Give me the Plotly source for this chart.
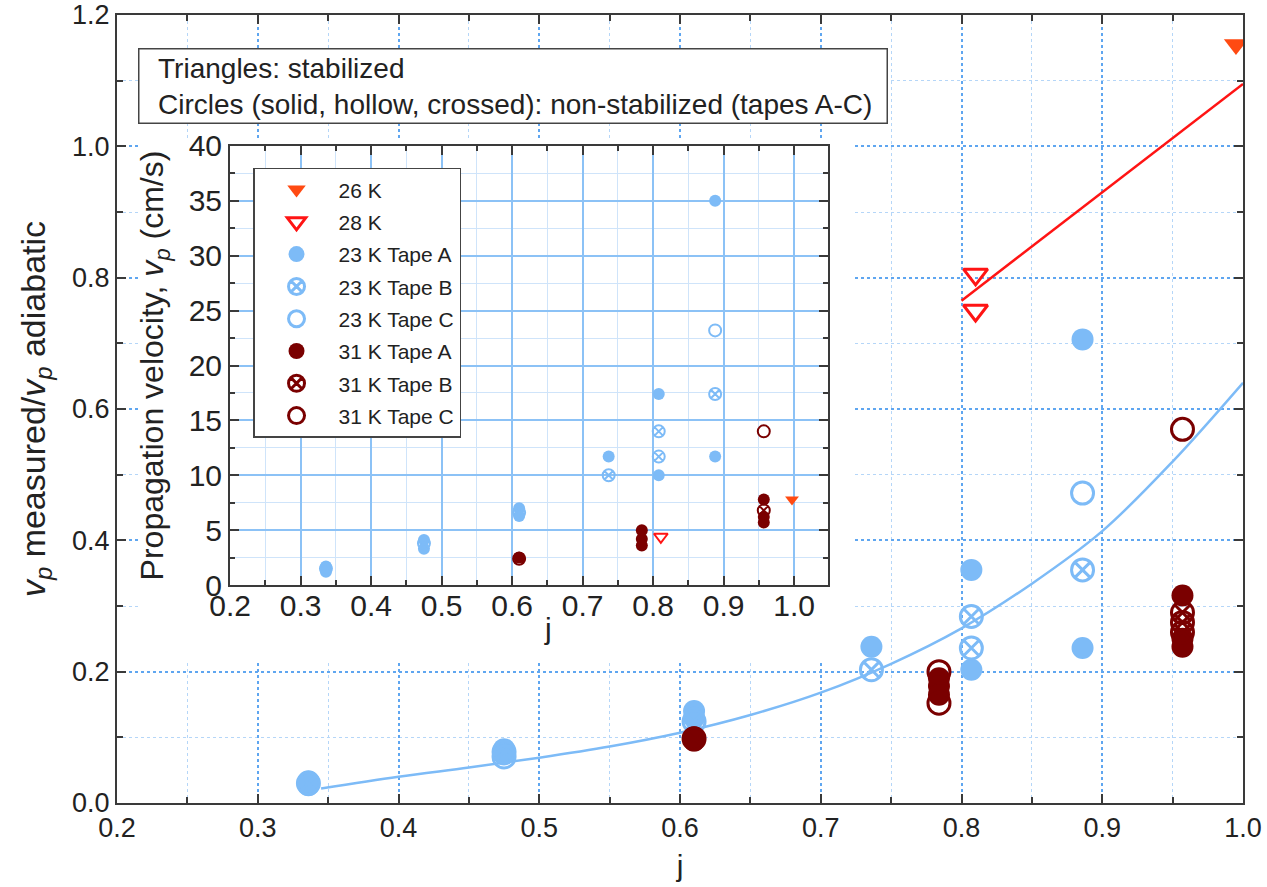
import plotly.graph_objects as go

# ---------------- data: main plot (v_p measured / v_p adiabatic vs j) ----------------
j_26K = [0.995]
r_26K = [1.155]
j_28K = [0.81, 0.81]
r_28K = [0.805, 0.75]
j_23A = [0.336, 0.336, 0.475, 0.475, 0.61, 0.61, 0.736, 0.807, 0.807, 0.886, 0.886]
r_23A = [0.033, 0.027, 0.082, 0.074, 0.140, 0.130, 0.238, 0.355, 0.203, 0.706, 0.236]
j_23B = [0.336, 0.475, 0.61, 0.736, 0.807, 0.807, 0.886]
r_23B = [0.030, 0.078, 0.124, 0.203, 0.284, 0.236, 0.355]
j_23C = [0.475, 0.886]
r_23C = [0.070, 0.472]
j_31A = [0.61, 0.61, 0.784, 0.784, 0.784, 0.957, 0.957, 0.957]
r_31A = [0.100, 0.095, 0.190, 0.178, 0.165, 0.316, 0.250, 0.238]
j_31B = [0.61, 0.957, 0.957, 0.957]
r_31B = [0.098, 0.290, 0.275, 0.260]
j_31C = [0.784, 0.784, 0.957]
r_31C = [0.200, 0.152, 0.569]

# fitted curves
fit_j = [0.345, 0.40, 0.45, 0.50, 0.55, 0.60, 0.65, 0.70, 0.75, 0.80, 0.85, 0.90, 0.95, 1.00]
fit_r = [0.022, 0.040, 0.054, 0.069, 0.086, 0.107, 0.134, 0.168, 0.212, 0.266, 0.334, 0.414, 0.520, 0.640]
stab_j = [0.80, 1.00]
stab_r = [0.765, 1.095]

# ---------------- data: inset (propagation velocity, cm/s) ----------------
ij_26K = [0.997]
iv_26K = [7.8]
ij_28K = [0.811]
iv_28K = [4.4]
ij_23A = [0.336, 0.336, 0.475, 0.475, 0.61, 0.61, 0.737, 0.808, 0.808, 0.888, 0.888]
iv_23A = [1.7, 1.2, 4.1, 3.3, 7.0, 6.3, 11.7, 17.4, 10.0, 35.0, 11.7]
ij_23B = [0.336, 0.475, 0.61, 0.737, 0.808, 0.808, 0.888]
iv_23B = [1.5, 3.8, 6.6, 10.0, 14.0, 11.7, 17.4]
ij_23C = [0.888]
iv_23C = [23.2]
ij_31A = [0.61, 0.784, 0.784, 0.784, 0.957, 0.957, 0.957]
iv_31A = [2.5, 5.0, 4.2, 3.6, 7.8, 6.2, 5.7]
ij_31B = [0.61, 0.957]
iv_31B = [2.4, 6.8]
ij_31C = [0.957]
iv_31C = [14.0]

main_x_ticks = [0.2, 0.3, 0.4, 0.5, 0.6, 0.7, 0.8, 0.9, 1.0]
main_y_ticks = [0.0, 0.2, 0.4, 0.6, 0.8, 1.0, 1.2]
inset_y_ticks = [0, 5, 10, 15, 20, 25, 30, 35, 40]

# ---------------- styles ----------------
FONT = "Liberation Sans, Arial, Helvetica, sans-serif"
TXT = "#222222"
LB = "#7DBBF7"
DR = "#7A0000"
OR = "#FF4A12"
RD = "#FF1414"
AX = "#3a3a3a"

series = [
    ("26 K", j_26K, r_26K, ij_26K, iv_26K, "triangle-down", OR),
    ("28 K", j_28K, r_28K, ij_28K, iv_28K, "triangle-down-open", RD),
    ("23 K Tape A", j_23A, r_23A, ij_23A, iv_23A, "circle", LB),
    ("23 K Tape B", j_23B, r_23B, ij_23B, iv_23B, "circle-x-open", LB),
    ("23 K Tape C", j_23C, r_23C, ij_23C, iv_23C, "circle-open", LB),
    ("31 K Tape A", j_31A, r_31A, ij_31A, iv_31A, "circle", DR),
    ("31 K Tape B", j_31B, r_31B, ij_31B, iv_31B, "circle-x-open", DR),
    ("31 K Tape C", j_31C, r_31C, ij_31C, iv_31C, "circle-open", DR),
]

fig = go.Figure()

fig.add_trace(go.Scatter(x=fit_j, y=fit_r, mode="lines", line=dict(color=LB, width=2.5, shape="spline"),
                         showlegend=False, hoverinfo="skip", xaxis="x", yaxis="y"))
fig.add_trace(go.Scatter(x=stab_j, y=stab_r, mode="lines", line=dict(color=RD, width=2.5),
                         showlegend=False, hoverinfo="skip", xaxis="x", yaxis="y"))

for name, mj, mr_, ij, iv, sym, col in series:
    is_open = "open" in sym
    msize = 21 if "triangle" in sym else 22
    fig.add_trace(go.Scatter(
        x=mj, y=mr_, mode="markers", name=name, legendgroup=name, showlegend=True,
        marker=dict(symbol=sym, size=msize, color=col, line=dict(color=col, width=3 if is_open else 0)),
        xaxis="x", yaxis="y"))
    fig.add_trace(go.Scatter(
        x=ij, y=iv, mode="markers", name=name, legendgroup=name, showlegend=False,
        marker=dict(symbol=sym, size=12, color=col, line=dict(color=col, width=2 if is_open else 0)),
        xaxis="x2", yaxis="y2"))

# white area behind the inset and its labels
XR = [0.2, 1.0]
YR = [0.0, 1.2]
mx0, mx1, my0, my1 = 0.0204, 0.655, 0.179, 0.841
fig.add_shape(type="rect", xref="x", yref="y", layer="between",
              x0=XR[0] + mx0 * (XR[1] - XR[0]), x1=XR[0] + mx1 * (XR[1] - XR[0]),
              y0=YR[0] + my0 * (YR[1] - YR[0]), y1=YR[0] + my1 * (YR[1] - YR[0]),
              fillcolor="white", line=dict(width=0))

def axis_common(size):
    return dict(showline=True, linecolor=AX, linewidth=2, mirror="ticks", ticks="inside",
                tickcolor=AX, tickwidth=2, ticklen=9, zeroline=False, automargin=False,
                ticklabeloverflow="allow",
                tickfont=dict(family=FONT, size=size, color=TXT))

fig.update_layout(
    template="none",
    width=1267, height=887,
    margin=dict(l=117, r=24, t=15, b=84, autoexpand=False),
    paper_bgcolor="white", plot_bgcolor="white",
    font=dict(family=FONT, color=TXT),
    xaxis=dict(domain=[0, 1], range=XR, tickvals=main_x_ticks, tickformat=".1f",
               showgrid=True, gridcolor="#5FA6F0", gridwidth=1.8, griddash="dot",
               minor=dict(dtick=0.05, ticks="inside", ticklen=6, tickcolor=AX, tickwidth=1.5,
                          showgrid=True, gridcolor="#B5D6F8", gridwidth=1.2, griddash="dot"),
               title=dict(text="j", font=dict(family=FONT, size=30, color=TXT), standoff=13),
               anchor="y", **axis_common(27)),
    yaxis=dict(domain=[0, 1], range=YR, tickvals=main_y_ticks, tickformat=".1f",
               showgrid=True, gridcolor="#5FA6F0", gridwidth=1.8, griddash="dot",
               minor=dict(dtick=0.1, ticks="inside", ticklen=6, tickcolor=AX, tickwidth=1.5,
                          showgrid=True, gridcolor="#B5D6F8", gridwidth=1.2, griddash="dot"),
               title=dict(text="<i>v<sub>p</sub></i> measured/<i>v<sub>p</sub></i> adiabatic",
                          font=dict(family=FONT, size=34, color=TXT), standoff=16),
               anchor="x", **axis_common(27)),
    xaxis2=dict(domain=[0.1004, 0.6314], range=[0.2, 1.048], tickvals=main_x_ticks, tickformat=".1f",
                showgrid=True, gridcolor="#8CC2F6", gridwidth=1.5,
                minor=dict(dtick=0.05, ticks="inside", ticklen=5, tickcolor=AX, tickwidth=1.5,
                           showgrid=True, gridcolor="#CFE4FA", gridwidth=1),
                ticklabelstandoff=-7,
                anchor="y2", **axis_common(30)),
    yaxis2=dict(domain=[0.2766, 0.8338], range=[0, 40], tickvals=inset_y_ticks,
                showgrid=True, gridcolor="#8CC2F6", gridwidth=1.5,
                minor=dict(dtick=2.5, ticks="inside", ticklen=5, tickcolor=AX, tickwidth=1.5,
                           showgrid=True, gridcolor="#CFE4FA", gridwidth=1),
                title=dict(text="Propagation velocity, <i>v<sub>p</sub></i> (cm/s)",
                           font=dict(family=FONT, size=32, color=TXT), standoff=15),
                anchor="x2", **axis_common(30)),
    legend=dict(x=0.1208, y=0.806, xanchor="left", yanchor="top", bgcolor="white",
                bordercolor="#444444", borderwidth=1.5, font=dict(family=FONT, size=21, color=TXT),
                tracegroupgap=2, itemwidth=74),
    showlegend=True,
)

# inset x-axis title
fig.add_annotation(xref="paper", yref="paper", x=0.3828, y=0.222, xanchor="center", yanchor="middle",
                   text="j", showarrow=False, font=dict(family=FONT, size=30, color=TXT))

fig.add_annotation(
    xref="paper", yref="paper", x=0.0187, y=0.958, xanchor="left", yanchor="top",
    text="\u00a0\u00a0Triangles: stabilized<br>\u00a0\u00a0Circles (solid, hollow, crossed): non-stabilized (tapes A-C)",
    showarrow=False, align="left", bgcolor="white", bordercolor="#444444", borderwidth=1.5,
    borderpad=3, width=741, font=dict(family=FONT, size=28, color=TXT))

# remove the default 8 px page margin so the figure fills the window exactly; hide the mode bar
fig.write_html("out.html", config={"displayModeBar": False},
               post_script="document.body.style.margin='0px';")
